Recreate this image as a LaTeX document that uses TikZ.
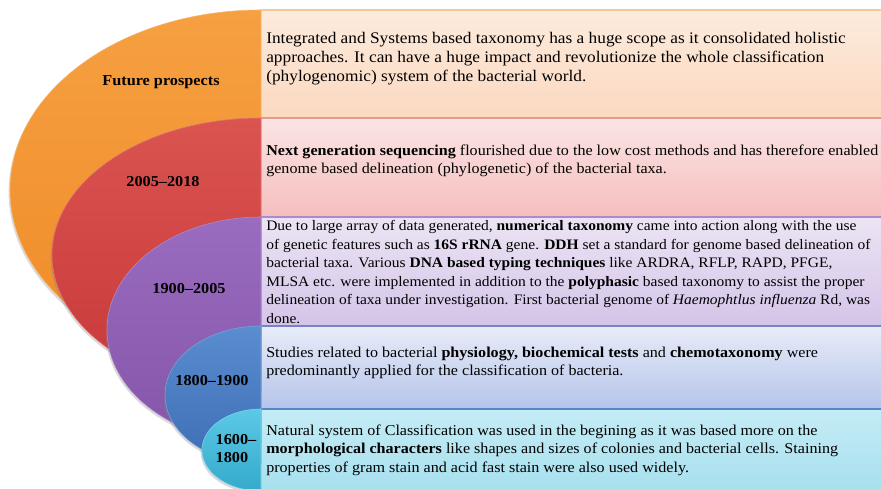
\documentclass[tikz,border=0pt]{standalone}
\usepackage{fontspec}
\setmainfont[FakeStretch=1.07]{Liberation Serif}
\usetikzlibrary{shadows}

\definecolor{orgT}{HTML}{F6A042}
\definecolor{orgB}{HTML}{EF8A26}
\definecolor{redT}{HTML}{DA5450}
\definecolor{redB}{HTML}{C8383A}
\definecolor{purT}{HTML}{9A6CC0}
\definecolor{purB}{HTML}{8455A8}
\definecolor{bluT}{HTML}{5A8CD0}
\definecolor{bluB}{HTML}{3E6EB4}
\definecolor{cyaT}{HTML}{5CC8E6}
\definecolor{cyaB}{HTML}{33AACC}
\definecolor{orgL}{HTML}{FDEBDD}
\definecolor{orgD}{HTML}{FBD9C0}
\definecolor{redL}{HTML}{FBE4E4}
\definecolor{redD}{HTML}{F6BEBE}
\definecolor{purL}{HTML}{ECE4F4}
\definecolor{purD}{HTML}{D4C4E8}
\definecolor{bluL}{HTML}{E8ECF8}
\definecolor{bluD}{HTML}{B4C4EA}
\definecolor{cyaL}{HTML}{C4ECF6}
\definecolor{cyaD}{HTML}{A8E0EE}
\definecolor{seamO}{HTML}{F8C79A}
\definecolor{seamR}{HTML}{E49A8C}
\definecolor{seamP}{HTML}{AA8CCE}
\definecolor{seamB}{HTML}{7882C8}
\definecolor{seamC}{HTML}{5688C8}

\begin{document}
\begin{tikzpicture}[
        x=0.025cm, y=0.025cm,
        era/.style={font=\fontsize{10.8}{12.8}\selectfont\bfseries, align=left, inner sep=0pt},
        info/.style={font=\fontsize{10.7}{13.1}\selectfont, align=left, anchor=west, inner sep=0pt},
        lobe/.style={drop shadow={shadow xshift=-1pt, shadow yshift=-1.5pt, opacity=0.3}},
        seam/.style={line width=0.9pt}
    ]
    \useasboundingbox (0,0) rectangle (881,488);

    % text bands
    \shade[top color=orgL, bottom color=orgD] (261,370) rectangle (881,478);
    \shade[top color=redL, bottom color=redD] (261,271) rectangle (881,370);
    \shade[top color=purL, bottom color=purD] (261,162) rectangle (881,271);
    \shade[top color=bluL, bottom color=bluD] (261,79) rectangle (881,162);
    \shade[top color=cyaL, bottom color=cyaD] (261,0) rectangle (881,79);
    \draw[seam, seamO] (261,478) -- (881,478);
    \draw[seam, seamR] (261,370) -- (881,370);
    \draw[seam, seamP] (261,271) -- (881,271);
    \draw[seam, seamB] (261,162) -- (881,162);
    \draw[seam, seamC] (261,79) -- (881,79);

    % half ellipses, back to front
    \shade[lobe, top color=orgT, bottom color=orgB, draw=orgT!80!white] (261,478) arc[start angle=90, end angle=270, x radius=251, y radius=180] -- cycle;
    \shade[lobe, top color=redT, bottom color=redB, draw=redT!80!white] (261,370) arc[start angle=90, end angle=270, x radius=209, y radius=137] -- cycle;
    \shade[lobe, top color=purT, bottom color=purB, draw=purT!80!white] (261,271) arc[start angle=90, end angle=270, x radius=154, y radius=113] -- cycle;
    \shade[lobe, top color=bluT, bottom color=bluB, draw=bluT!80!white] (261,162) arc[start angle=90, end angle=270, x radius=96, y radius=69] -- cycle;
    \shade[lobe, top color=cyaT, bottom color=cyaB, draw=cyaT!80!white] (261,79) arc[start angle=90, end angle=270, x radius=59, y radius=41] -- cycle;

    \node[era] (fut) at (161,406) {Future prospects};
    \node[era] (ngs) at (163,306) {2005--2018};
    \node[era] (num) at (189,199) {1900--2005};
    \node[era] (phy) at (212,107) {1800--1900};
    \node[era] (mor) at (236,39) {1600--\\1800};

    \node[info, font=\fontsize{11.5}{13.5}\selectfont] (t1) at (266,429) {Integrated and Systems based taxonomy has a huge scope as it consolidated holistic\\
        approaches. It can have a huge impact and revolutionize the whole classification\\
        (phylogenomic) system of the bacterial world.};
    \node[info] (t2) at (266,327) {\textbf{Next generation sequencing} flourished due to the low cost methods and has therefore enabled\\
        genome based delineation (phylogenetic) of the bacterial taxa.};
    \node[info, font=\fontsize{10.3}{13.1}\selectfont] (t3) at (266,216) {Due to large array of data generated, \textbf{numerical taxonomy} came into action along with the use\\
        of genetic features such as \textbf{16S rRNA} gene. \textbf{DDH} set a standard for genome based delineation of\\
        bacterial taxa. Various \textbf{DNA based typing techniques} like ARDRA, RFLP, RAPD, PFGE,\\
        MLSA etc. were implemented in addition to the \textbf{polyphasic} based taxonomy to assist the proper\\
        delineation of taxa under investigation. First bacterial genome of \textit{Haemophtlus influenza} Rd, was\\
        done.};
    \node[info] (t4) at (266,125) {Studies related to bacterial \textbf{physiology, biochemical tests} and \textbf{chemotaxonomy} were\\
        predominantly applied for the classification of bacteria.};
    \node[info] (t5) at (266,38) {Natural system of Classification was used in the begining as it was based more on the\\
        \textbf{morphological characters} like shapes and sizes of colonies and bacterial cells. Staining\\
        properties of gram stain and acid fast stain were also used widely.};
\end{tikzpicture}
\end{document}
